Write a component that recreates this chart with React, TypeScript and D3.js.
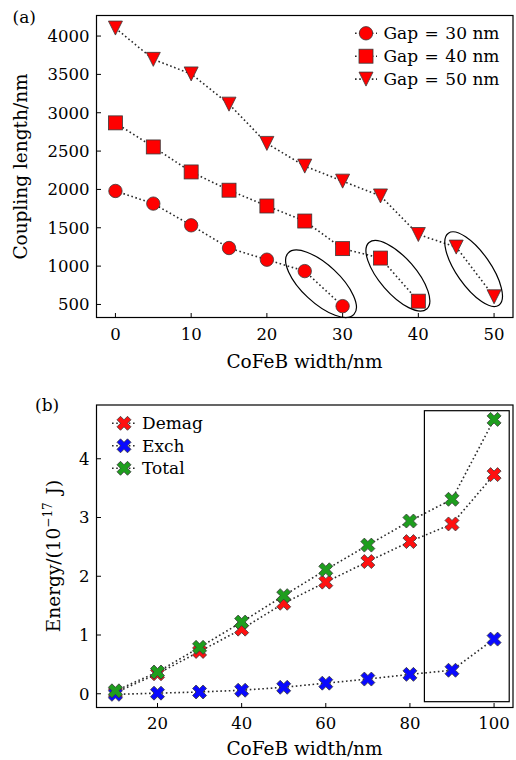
import React from "react";
import * as d3 from "d3";

// ---------- Panel (a): coupling length vs CoFeB width ----------
const widthsA = [0, 5, 10, 15, 20, 25, 30, 35, 40, 45, 50];
const gap30 = [1980, 1815, 1532, 1236, 1084, 935, 478];
const gap40 = [2868, 2554, 2228, 1990, 1784, 1588, 1228, 1105, 543];
const gap50 = [4104, 3696, 3506, 3112, 2600, 2304, 2108, 1915, 1412, 1248, 600];
const gapValues = [30, 40, 50];
const xTicksA = [0, 10, 20, 30, 40, 50];
const yTicksA = [500, 1000, 1500, 2000, 2500, 3000, 3500, 4000];
// highlighted end pairs (centre in data units)
const highlightX = [27.15, 37.3, 47.3];
const highlightY = [770, 874, 960];

// ---------- Panel (b): energy vs CoFeB width ----------
const widthsB = [10, 20, 30, 40, 50, 60, 70, 80, 90, 100];
const demag = [0.02, 0.34, 0.72, 1.1, 1.54, 1.9, 2.25, 2.59, 2.89, 3.73];
const exch = [-0.01, 0.01, 0.03, 0.06, 0.11, 0.18, 0.25, 0.33, 0.4, 0.93];
const total = [0.05, 0.37, 0.79, 1.22, 1.67, 2.11, 2.53, 2.94, 3.31, 4.67];
const seriesNamesB = ["Demag", "Exch", "Total"];
const xTicksB = [20, 40, 60, 80, 100];
const yTicksB = [0, 1, 2, 3, 4];
// boxed region [x0, x1] x [y0, y1] in data units
const boxX = [83.44, 103.6];
const boxY = [-0.135, 4.818];

const FONT = "'DejaVu Serif', serif";
const TICK_FS = 16.5;
const LABEL_FS = 18.5;
const LEGEND_FS = 17;
const LINE_COLOR = "#2a2a2a";
const EDGE = "#3a3a3a";
const DASH = "1.6 2.6";

// ellipse shapes in pixels: semi-major, semi-minor, rotation (deg)
const ellipseShapes = [
  { a: 45, b: 19, rot: 43 },
  { a: 44, b: 18, rot: 49 },
  { a: 44, b: 17, rot: 55 },
];

type Pt = [number, number];

function Marker({ kind, x, y, fill }: { kind: string; x: number; y: number; fill: string }) {
  if (kind === "circle") {
    return <circle cx={x} cy={y} r={6.7} fill={fill} stroke={EDGE} strokeWidth={0.8} />;
  }
  if (kind === "square") {
    const s = 14;
    return <rect x={x - s / 2} y={y - s / 2} width={s} height={s} fill={fill} stroke={EDGE} strokeWidth={0.8} />;
  }
  if (kind === "triangle") {
    const w = 7, h = 7;
    const d = `M${x - w},${y - h}L${x + w},${y - h}L${x},${y + h}Z`;
    return <path d={d} fill={fill} stroke={EDGE} strokeWidth={0.8} />;
  }
  // filled X
  const ms = 14;
  const unit: Pt[] = [
    [-0.25, -0.5], [0, -0.25], [0.25, -0.5], [0.5, -0.25], [0.25, 0], [0.5, 0.25],
    [0.25, 0.5], [0, 0.25], [-0.25, 0.5], [-0.5, 0.25], [-0.25, 0], [-0.5, -0.25],
  ];
  const d = "M" + unit.map(([u, v]) => `${x + u * ms},${y + v * ms}`).join("L") + "Z";
  return <path d={d} fill={fill} stroke={EDGE} strokeWidth={0.8} strokeLinejoin="round" />;
}

export default function App() {
  // ---- scales for panel (a)
  const ax = d3.scaleLinear().domain([-2.5, 52.5]).range([96.5, 513]);
  const ay = d3.scaleLinear().domain([330, 4268]).range([317.5, 15.5]);
  // ---- scales for panel (b)
  const bx = d3.scaleLinear().domain([5.5, 104.5]).range([96.5, 513]);
  const by = d3.scaleLinear().domain([-0.234, 4.915]).range([707.5, 405]);

  const lineA = d3.line<Pt>().x((d) => ax(d[0])).y((d) => ay(d[1]));
  const lineB = d3.line<Pt>().x((d) => bx(d[0])).y((d) => by(d[1]));

  const seriesA = [
    { gap: gapValues[0], vals: gap30, kind: "circle" },
    { gap: gapValues[1], vals: gap40, kind: "square" },
    { gap: gapValues[2], vals: gap50, kind: "triangle" },
  ].map((s) => ({ ...s, pts: s.vals.map((v, i) => [widthsA[i], v] as Pt) }));

  const seriesB = [
    { name: seriesNamesB[0], vals: demag, fill: "#ff1010" },
    { name: seriesNamesB[1], vals: exch, fill: "#0a0aff" },
    { name: seriesNamesB[2], vals: total, fill: "#1e9e1e" },
  ].map((s) => ({ ...s, pts: s.vals.map((v, i) => [widthsB[i], v] as Pt) }));

  const frame = (x0: number, x1: number, y0: number, y1: number) => (
    <rect x={x0} y={y0} width={x1 - x0} height={y1 - y0} fill="none" stroke="#000" strokeWidth={1.2} />
  );

  const tick = 4.5;

  return (
    <svg
      width={516}
      height={760}
      style={{ position: "absolute", left: 0, top: 0, background: "#fff" }}
      fontFamily={FONT}
    >
      <rect width={516} height={760} fill="#fff" />

      {/* ===== Panel (a) ===== */}
      <text x={12.5} y={22.5} fontSize={17}>(a)</text>
      {xTicksA.map((t) => (
        <g key={"xa" + t}>
          <line x1={ax(t)} x2={ax(t)} y1={ay.range()[0]} y2={ay.range()[0] - tick} stroke="#000" strokeWidth={1} />
          <text x={ax(t)} y={339.5} fontSize={TICK_FS} textAnchor="middle">{t}</text>
        </g>
      ))}
      {yTicksA.map((t) => (
        <g key={"ya" + t}>
          <line x1={ax.range()[0]} x2={ax.range()[0] + tick} y1={ay(t)} y2={ay(t)} stroke="#000" strokeWidth={1} />
          <text x={89.5} y={ay(t) + 5.8} fontSize={TICK_FS} textAnchor="end">{t}</text>
        </g>
      ))}
      {seriesA.map((s) => (
        <g key={"sa" + s.gap}>
          <path d={lineA(s.pts) || ""} fill="none" stroke={LINE_COLOR} strokeWidth={1.6} strokeDasharray={DASH} />
          {s.pts.map((p, i) => (
            <Marker key={i} kind={s.kind} x={ax(p[0])} y={ay(p[1])} fill="#ff0000" />
          ))}
        </g>
      ))}
      {highlightX.map((hx, i) => (
        <ellipse
          key={"el" + i}
          cx={0}
          cy={0}
          rx={ellipseShapes[i].a}
          ry={ellipseShapes[i].b}
          transform={`translate(${ax(hx)},${ay(highlightY[i])}) rotate(${ellipseShapes[i].rot})`}
          fill="none"
          stroke="#000"
          strokeWidth={1.2}
        />
      ))}
      {/* legend */}
      {seriesA.map((s, i) => {
        const yy = 33.3 + i * 22.9;
        return (
          <g key={"la" + i}>
            <line x1={355} x2={377} y1={yy} y2={yy} stroke={LINE_COLOR} strokeWidth={1.6} strokeDasharray={DASH} />
            <Marker kind={s.kind} x={366} y={yy} fill="#ff0000" />
            <text x={383.5} y={yy + 6} fontSize={LEGEND_FS}>
              Gap
              <tspan dx={6.5}>=</tspan>
              <tspan dx={6.5}>{`${s.gap} nm`}</tspan>
            </text>
          </g>
        );
      })}
      {frame(96.5, 513, 15.5, 317.5)}
      <text x={304.5} y={367.5} fontSize={LABEL_FS} textAnchor="middle">CoFeB width/nm</text>
      <text transform="translate(27,166.5) rotate(-90)" fontSize={LABEL_FS} textAnchor="middle">Coupling length/nm</text>

      {/* ===== Panel (b) ===== */}
      <text x={35} y={410.5} fontSize={17}>(b)</text>
      {xTicksB.map((t) => (
        <g key={"xb" + t}>
          <line x1={bx(t)} x2={bx(t)} y1={by.range()[0]} y2={by.range()[0] - tick} stroke="#000" strokeWidth={1} />
          <text x={bx(t)} y={728.5} fontSize={TICK_FS} textAnchor="middle">{t}</text>
        </g>
      ))}
      {yTicksB.map((t) => (
        <g key={"yb" + t}>
          <line x1={bx.range()[0]} x2={bx.range()[0] + tick} y1={by(t)} y2={by(t)} stroke="#000" strokeWidth={1} />
          <text x={89.5} y={by(t) + 5.8} fontSize={TICK_FS} textAnchor="end">{t}</text>
        </g>
      ))}
      {seriesB.map((s) => (
        <g key={s.name}>
          <path d={lineB(s.pts) || ""} fill="none" stroke={LINE_COLOR} strokeWidth={1.6} strokeDasharray={DASH} />
          {s.pts.map((p, i) => (
            <Marker key={i} kind="x" x={bx(p[0])} y={by(p[1])} fill={s.fill} />
          ))}
        </g>
      ))}
      <rect
        x={bx(boxX[0])}
        y={by(boxY[1])}
        width={bx(boxX[1]) - bx(boxX[0])}
        height={by(boxY[0]) - by(boxY[1])}
        fill="none"
        stroke="#000"
        strokeWidth={1.2}
      />
      {seriesB.map((s, i) => {
        const yy = 423.3 + i * 22.5;
        return (
          <g key={"lb" + i}>
            <line x1={112} x2={135} y1={yy} y2={yy} stroke={LINE_COLOR} strokeWidth={1.6} strokeDasharray={DASH} />
            <Marker kind="x" x={124} y={yy} fill={s.fill} />
            <text x={142} y={yy + 6} fontSize={LEGEND_FS}>{s.name}</text>
          </g>
        );
      })}
      {frame(96.5, 513, 405, 707.5)}
      <text x={304.5} y={755} fontSize={LABEL_FS} textAnchor="middle">CoFeB width/nm</text>
      <text transform="translate(59.5,556) rotate(-90)" fontSize={LABEL_FS} textAnchor="middle">
        Energy/(10
        <tspan fontSize={12} dy={-7.5}>−17</tspan>
        <tspan dy={7.5} dx={2}> J)</tspan>
      </text>
    </svg>
  );
}
